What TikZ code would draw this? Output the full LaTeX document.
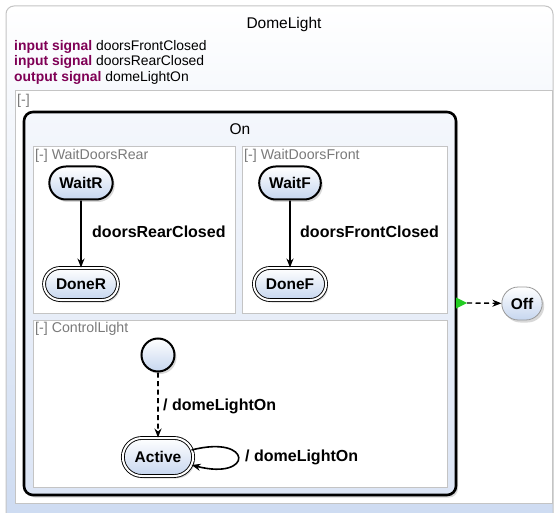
\documentclass[tikz,border=0pt]{standalone}
\usepackage{fontspec}
\setmainfont{Liberation Sans}
\usetikzlibrary{shadows,arrows.meta,shapes.misc,calc}
\definecolor{kw}{HTML}{7F0055}
\definecolor{outerbot}{HTML}{CCDAF1}
\definecolor{stbot}{HTML}{C6D6EF}
\definecolor{rgnline}{HTML}{C4C4C4}
\definecolor{rgntext}{HTML}{7A7A7A}
\definecolor{ontop}{HTML}{F4F7FC}
\definecolor{onbot}{HTML}{DCE5F5}
\definecolor{initgreen}{HTML}{22CC22}
\tikzset{
  shad/.style={drop shadow={opacity=0.3,shadow xshift=2pt,shadow yshift=-2.5pt}},
  statebox/.style={rounded rectangle, draw=black, line width=2pt, top color=white, bottom color=stbot,
    font=\fontsize{15.5}{17}\bfseries\selectfont, minimum height=33pt, inner xsep=9pt, shad},
  finalbox/.style={rounded rectangle, draw=black, line width=0.9pt, double=white, double distance=2pt,
    top color=white, bottom color=stbot, font=\fontsize{15.5}{17}\bfseries\selectfont,
    minimum height=32pt, inner xsep=11pt, shad},
  plainbox/.style={rounded rectangle, draw=gray!80, line width=0.8pt, top color=white, bottom color=stbot,
    font=\fontsize{15.5}{17}\bfseries\selectfont, minimum height=33pt, inner xsep=8pt, shad},
  region/.style={draw=rgnline, line width=1pt, fill=white},
  rlabel/.style={anchor=west, text=rgntext, font=\fontsize{14.2}{16}\selectfont, inner sep=0pt},
  elabel/.style={anchor=west, font=\fontsize{16}{18}\bfseries\selectfont, inner sep=0pt},
  sig/.style={anchor=west, font=\fontsize{13.9}{15}\selectfont, inner sep=0pt},
  tr/.style={line width=1.6pt, -{Stealth[length=9pt,width=7pt]}},
  dtr/.style={tr, dash pattern=on 5pt off 3.5pt},
}
\begin{document}
\begin{tikzpicture}[x=1pt,y=-1pt]
\useasboundingbox (0,0) rectangle (554,513);
% outer DomeLight box
\path[draw=rgnline, line width=1pt, rounded corners=8, top color=white, bottom color=outerbot]
  (6,6) rectangle (553,535);
\node[font=\fontsize{15.5}{17}\selectfont] (title) at (284,24) {DomeLight};
\node[sig] (s1) at (14,46.5) {\textbf{\color{kw}input signal} doorsFrontClosed};
\node[sig] (s2) at (14,62) {\textbf{\color{kw}input signal} doorsRearClosed};
\node[sig] (s3) at (14,78) {\textbf{\color{kw}output signal} domeLightOn};
% main region
\path[region] (15,91) rectangle (552,503);
\node[rlabel] (mainlbl) at (17,101) {[-]};
% On state
\path[draw=black, line width=2.6pt, rounded corners=9, top color=ontop, bottom color=onbot, shad]
  (24,112) rectangle (456,495);
\node[font=\fontsize{15.5}{17}\selectfont] (onlbl) at (240,129) {On};
% regions
\path[region] (33,147) rectangle (235,313);
\path[region] (242,147) rectangle (447,313);
\path[region] (33,320) rectangle (447,487);
\node[rlabel] (r1) at (35,156) {[-] WaitDoorsRear};
\node[rlabel] (r2) at (244,156) {[-] WaitDoorsFront};
\node[rlabel] (r3) at (35,329) {[-] ControlLight};
% WaitDoorsRear
\node[statebox] (waitr) at (81,183) {WaitR};
\node[finalbox] (doner) at (81,284) {DoneR};
\draw[tr] (waitr) -- (doner);
\node[elabel] (lr) at (92,232) {doorsRearClosed};
% WaitDoorsFront
\node[statebox] (waitf) at (290,183) {WaitF};
\node[finalbox] (donef) at (290,284) {DoneF};
\draw[tr] (waitf) -- (donef);
\node[elabel] (lf) at (300,232) {doorsFrontClosed};
% ControlLight
\node[circle, draw=black, line width=2pt, minimum size=33pt, inner sep=0pt, top color=white, bottom color=stbot, shad] (init) at (158,355) {};
\node[finalbox, minimum height=38pt] (active) at (158,457) {Active};
\draw[dtr] (init) -- (active);
\node[elabel] (li) at (163,406) {/ domeLightOn};
\draw[tr] ($(active.east)+(-2,-7)$) .. controls +(62,-16) and +(62,16) .. ($(active.east)+(-2,8)$);
\node[elabel] (ll) at (245,457) {/ domeLightOn};
% Off
\node[plainbox] (off) at (522,303.5) {Off};
\coordinate (onexit) at (456,303);
\fill[initgreen] (456,297.5) -- (467,303) -- (456,308.5) -- cycle;
\draw[dtr, line width=1.4pt] (467,303) -- (off);
\end{tikzpicture}
\end{document}
